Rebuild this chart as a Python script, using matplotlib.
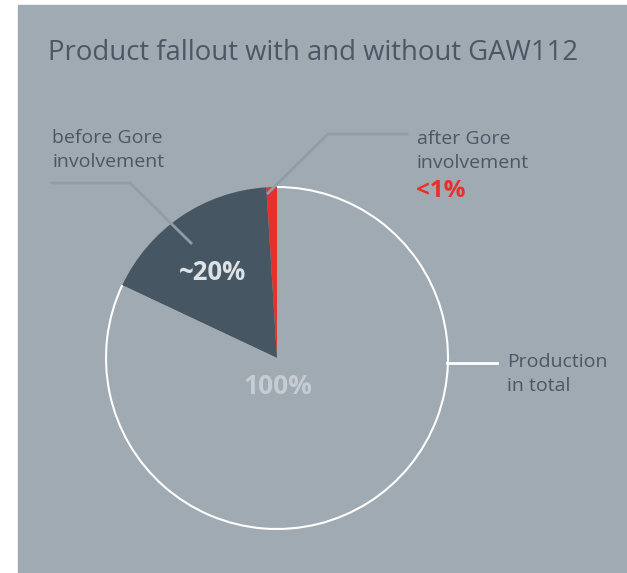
import matplotlib.pyplot as plt
from matplotlib.patches import Arc, Rectangle

# share of production (percent), drawn counterclockwise from 12 o'clock
slice_names = ["after Gore involvement", "before Gore involvement", "good production"]
shares = [1, 17, 82]
slice_colors = ["#e8302a", "#465663", "#a0aab2"]

title = "Product fallout with and without GAW112"
before_label = "before Gore\ninvolvement"
after_label = "after Gore\ninvolvement"
after_value = "<1%"
before_value = "~20%"
total_value = "100%"
total_label = "Production\nin total"

bg = "#a0aab2"
text_col = "#4a5866"
lead_col = "#929ca5"
W, H = 627, 573

plt.rcParams['font.family'] = ['Open Sans', 'DejaVu Sans']

fig = plt.figure(figsize=(W / 100, H / 100), dpi=100)
ax = fig.add_axes([0, 0, 1, 1])

# panel background
ax.add_patch(Rectangle((18, 0), W - 18, H - 5, color=bg, zorder=0))

cx, cy, r = 277, H - 358, 171
ax.pie(shares, colors=slice_colors, startangle=90, counterclock=True,
       center=(cx, cy), radius=r, frame=True,
       wedgeprops=dict(linewidth=0))
ax.set_xlim(0, W)
ax.set_ylim(0, H)
ax.set_aspect('equal')
ax.axis('off')

# white outline round the remaining production
t1 = 90 + 360 * (shares[0] + shares[1]) / 100
ax.add_patch(Arc((cx, cy), 2 * r, 2 * r, theta1=t1, theta2=450,
                 color='white', lw=1.5, zorder=3))

ax.text(48, H - 53, title, fontsize=19.8, color=text_col, va='center', ha='left')

# leader lines
ax.plot([52, 130, 191], [H - 183, H - 183, H - 243], color=lead_col, lw=2, zorder=4)
ax.plot([407, 328, 268], [H - 134, H - 134, H - 193], color=lead_col, lw=2, zorder=4)
ax.plot([447, 497], [H - 363, H - 363], color='white', lw=2, zorder=4)

ax.text(52, H - 150, before_label, fontsize=14, color=text_col, va='center',
        ha='left', linespacing=1.45)
ax.text(417, H - 151, after_label, fontsize=14, color=text_col, va='center',
        ha='left', linespacing=1.45)
ax.text(416, H - 191, after_value, fontsize=17.5, color="#e8302a", va='center',
        ha='left', fontweight='bold')
ax.text(507, H - 374, total_label, fontsize=14, color=text_col, va='center',
        ha='left', linespacing=1.45)
ax.text(213, H - 273, before_value, fontsize=18.5, color="#dde2e6", va='center',
        ha='center', fontweight='bold')
ax.text(278, H - 386, total_value, fontsize=19, color="#c5cdd3", va='center',
        ha='center', fontweight='bold')

fig.savefig("out.png", dpi=100, facecolor='white')
